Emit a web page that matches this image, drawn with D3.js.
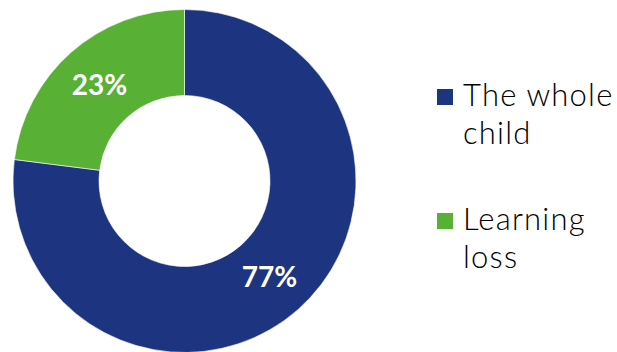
<!DOCTYPE html>
<html>
<head>
<meta charset="utf-8">
<script src="https://cdn.jsdelivr.net/npm/d3@7"></script>
<style>
  html, body { margin: 0; padding: 0; background: #fff; }
  svg { display: block; }
</style>
</head>
<body>
<svg id="chart" width="617" height="352"></svg>
<script>
// Share of focus, in percent
const categories = ["The whole child", "Learning loss"];
const values = [77, 23];
const legendLines = [["The whole", "child"], ["Learning", "loss"]];
const colors = ["#1d3480", "#58b134"];

const svg = d3.select("#chart");
const cx = 184.5, cy = 181, outerR = 171.5, innerR = 85.5;

const pie = d3.pie().sort(null).value(d => d)(values);
const arc = d3.arc().innerRadius(innerR).outerRadius(outerR);

const g = svg.append("g").attr("transform", `translate(${cx},${cy})`);

g.selectAll("path")
  .data(pie)
  .join("path")
  .attr("d", arc)
  .attr("fill", (d, i) => colors[i])
  .attr("stroke", "#fff")
  .attr("stroke-width", 0.6);

g.selectAll("text.val")
  .data(pie)
  .join("text")
  .attr("class", "val")
  .attr("transform", d => `translate(${arc.centroid(d)})`)
  .attr("text-anchor", "middle")
  .attr("dy", "0.36em")
  .attr("fill", "#fff")
  .style("font-family", "Lato, 'Open Sans', sans-serif")
  .style("font-weight", "700")
  .style("font-size", "28px")
  .text(d => d.data + "%");

// Legend
const legend = svg.append("g");
const itemY = [89, 213];
legendLines.forEach((lines, i) => {
  const item = legend.append("g").attr("transform", `translate(437,${itemY[i]})`);
  item.append("rect")
    .attr("width", 16).attr("height", 16)
    .attr("fill", colors[i]);
  item.append("text")
    .attr("x", 26)
    .attr("fill", "#000")
    .style("font-family", "Lato, 'DejaVu Sans', sans-serif")
    .style("font-weight", "300")
    .style("font-size", "31px")
    .style("letter-spacing", "1.2px")
    .selectAll("tspan")
    .data(lines)
    .join("tspan")
    .attr("x", 26)
    .attr("y", (d, j) => 16.5 + j * 38.5)
    .text(d => d);
});
</script>
</body>
</html>
